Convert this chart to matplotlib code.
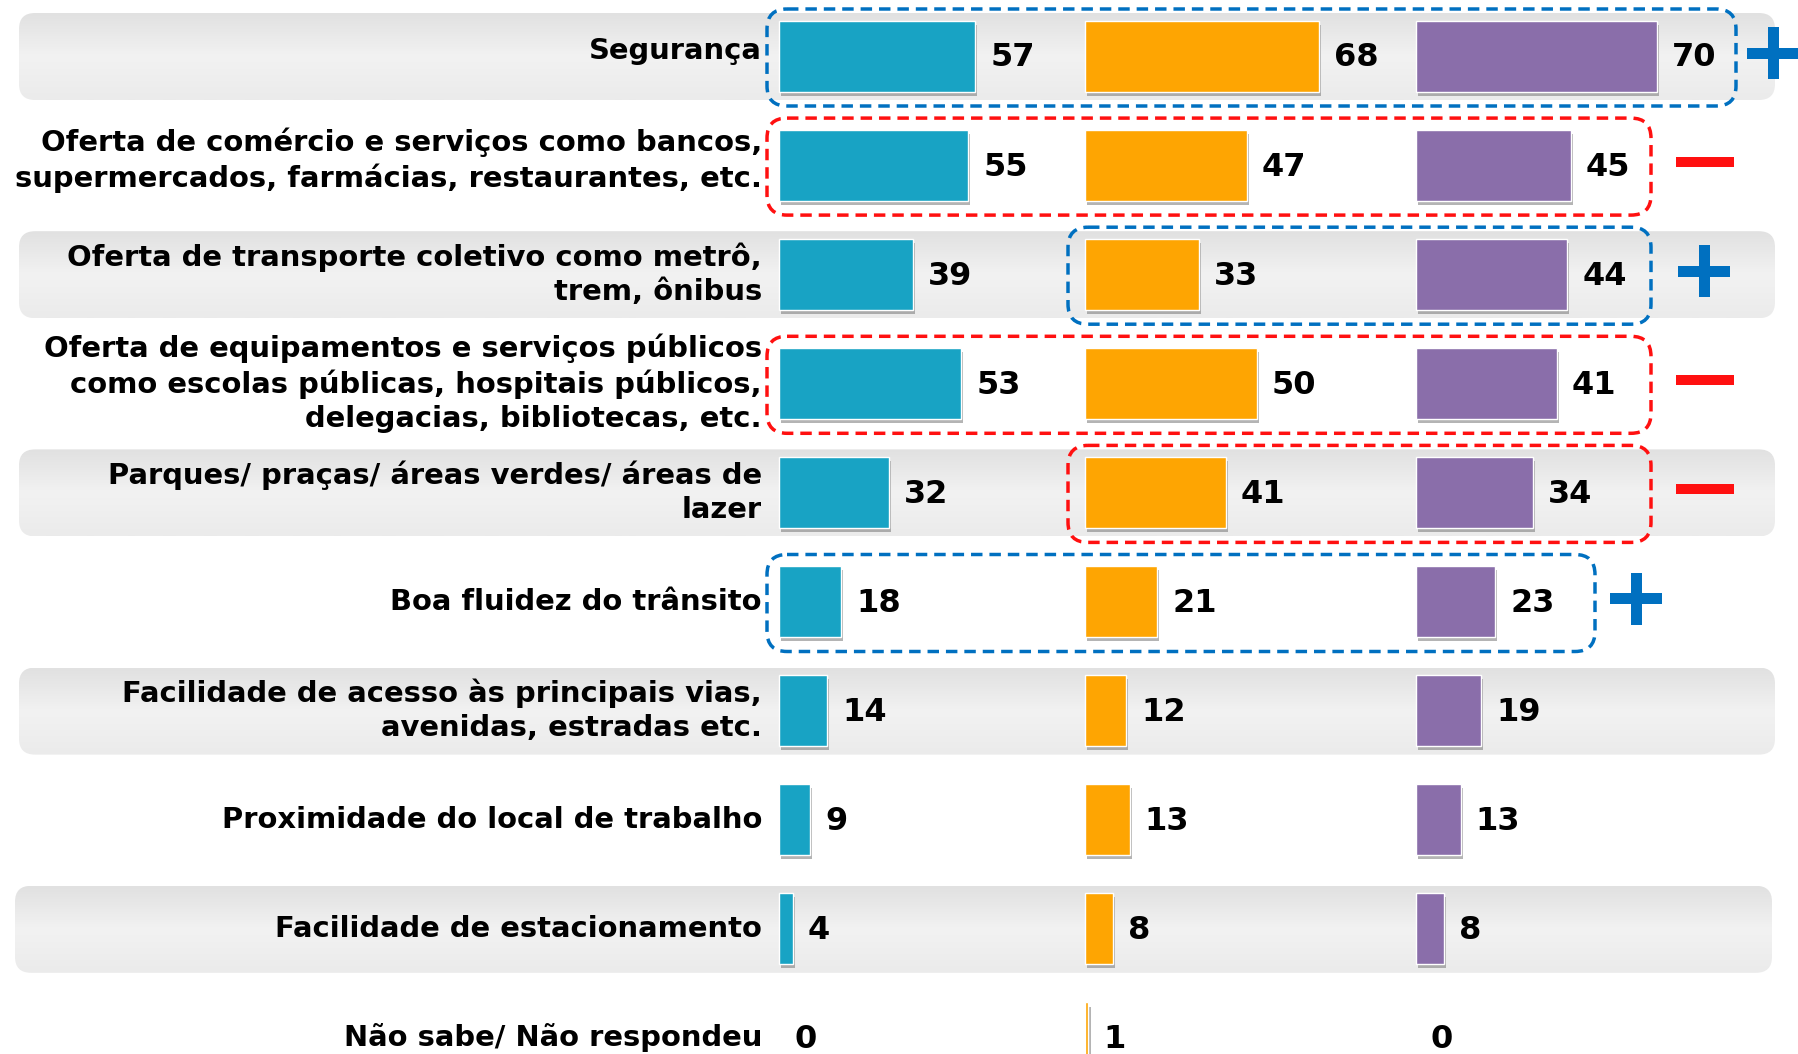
import numpy as np
import matplotlib.pyplot as plt
from matplotlib.patches import FancyBboxPatch, Rectangle
from matplotlib.colors import LinearSegmentedColormap
import matplotlib.patheffects as pe

# dados
categorias = [
    "Segurança",
    "Oferta de comércio e serviços como bancos,\nsupermercados, farmácias, restaurantes, etc.",
    "Oferta de transporte coletivo como metrô,\ntrem, ônibus",
    "Oferta de equipamentos e serviços públicos\ncomo escolas públicas, hospitais públicos,\ndelegacias, bibliotecas, etc.",
    "Parques/ praças/ áreas verdes/ áreas de\nlazer",
    "Boa fluidez do trânsito",
    "Facilidade de acesso às principais vias,\navenidas, estradas etc.",
    "Proximidade do local de trabalho",
    "Facilidade de estacionamento",
    "Não sabe/ Não respondeu",
]
serie_azul = [57, 55, 39, 53, 32, 18, 14, 9, 4, 0]
serie_laranja = [68, 47, 33, 50, 41, 21, 12, 13, 8, 1]
serie_roxa = [70, 45, 44, 41, 34, 23, 19, 13, 8, 0]

# destaques: (linha, primeira serie, cor, sinal)
destaques = [
    (0, 0, "azul", "+"),
    (1, 0, "vermelho", "-"),
    (2, 1, "azul", "+"),
    (3, 0, "vermelho", "-"),
    (4, 1, "vermelho", "-"),
    (5, 0, "azul", "+"),
]

# layout (pixels)
W, H = 1798, 1054
Y0, ROW = 56, 109.1
BAR_H = 71
PX = 3.44
inicio = [779, 1085, 1416]
cores = ["#18a3c4", "#fea502", "#8a6eaa"]
cor_borda = {"azul": "#0070c0", "vermelho": "#ff1010"}

fig = plt.figure(figsize=(W / 100, H / 100), dpi=100)
ax = fig.add_axes([0, 0, 1, 1])
ax.axis("off")

y = Y0 + ROW * np.arange(len(categorias))

# faixas cinza
grad = np.linspace(0, 1, 64).reshape(-1, 1)
cmap_faixa = LinearSegmentedColormap.from_list("g", ["#e1e1e1", "#f2f2f2", "#ebebeb"])
for i in range(0, len(categorias), 2):
    x0, x1 = (15, 1772) if i == 8 else (19, 1775)
    top = y[i] - 43
    band = FancyBboxPatch((x0, top), x1 - x0, 87,
                          boxstyle="round,pad=0,rounding_size=16",
                          fc="none", ec="none")
    ax.add_patch(band)
    im = ax.imshow(grad, cmap=cmap_faixa, extent=(x0, x1, top + 87, top),
                   aspect="auto", zorder=0)
    im.set_clip_path(band)

ax.set_xlim(0, W)
ax.set_ylim(H, 0)

# barras
sombra = [pe.SimplePatchShadow(offset=(1.5, -3), shadow_rgbFace="#777777", alpha=0.55), pe.Normal()]
for s, vals in enumerate([serie_azul, serie_laranja, serie_roxa]):
    vals = np.array(vals)
    bars = ax.barh(y, vals * PX, left=inicio[s], height=BAR_H, color=cores[s],
                   edgecolor="white", linewidth=1, zorder=3)
    for b in bars:
        if b.get_width() > 0:
            b.set_path_effects(sombra)
    for yi, v in zip(y, vals):
        ax.text(inicio[s] + v * PX + 15, yi + 2, str(v), ha="left", va="center",
                fontsize=23, fontweight="bold", color="black", zorder=4)

# rotulos
for i, (yi, cat) in enumerate(zip(y, categorias)):
    dy = -5 if i < 2 else 0
    ax.text(762, yi + dy, cat, ha="right", va="center", fontsize=20.9,
            fontweight="bold", linespacing=1.27, zorder=4)

# caixas tracejadas e sinais
box_x = {0: 767, 1: 1068}
box_right = {0: 1736, 1: 1651, 2: 1651, 3: 1651, 4: 1651, 5: 1595}
sinal_x = {0: 1773, 1: 1705, 2: 1704, 3: 1705, 4: 1705, 5: 1636}
for linha, a, cor, sinal in destaques:
    c = cor_borda[cor]
    x0 = box_x[a]
    x1 = box_right[linha]
    ax.add_patch(FancyBboxPatch((x0, y[linha] - 47), x1 - x0, 97,
                                boxstyle="round,pad=0,rounding_size=20",
                                fc="none", ec=c, lw=2.5, ls=(0, (3.3, 2)), zorder=5))
    sx, sy = sinal_x[linha], y[linha] - 3
    if sinal == "+":
        ax.add_patch(Rectangle((sx - 26, sy - 5.5), 52, 11, color=c, lw=0, zorder=5))
        ax.add_patch(Rectangle((sx - 5.5, sy - 26), 11, 52, color=c, lw=0, zorder=5))
    else:
        ax.add_patch(Rectangle((sx - 29, sy - 5), 58, 10, color=c, lw=0, zorder=5))

fig.savefig("out.png", dpi=100)
